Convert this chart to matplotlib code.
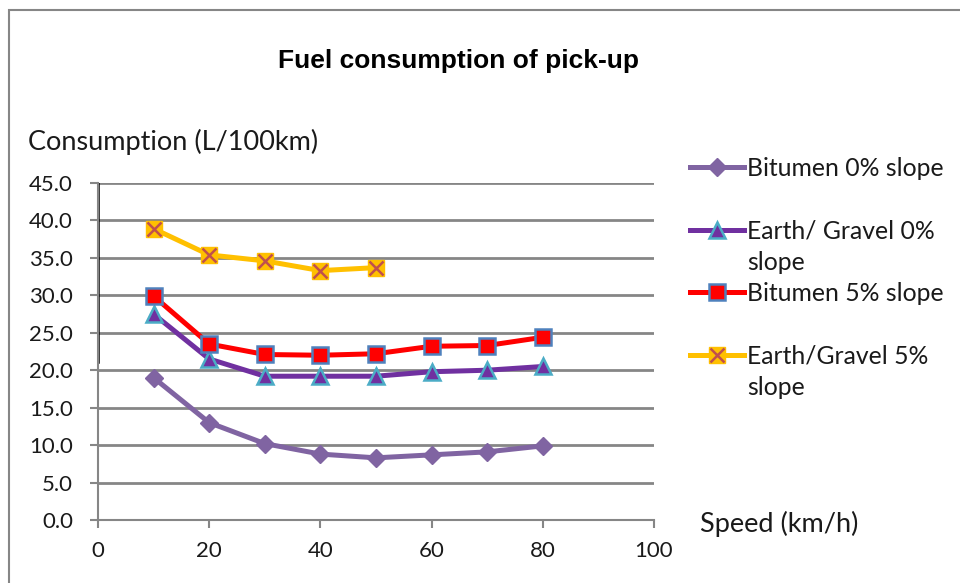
import matplotlib
matplotlib.use("Agg")
import matplotlib.pyplot as plt
from matplotlib.lines import Line2D
from matplotlib.patches import Rectangle

speed = [10, 20, 30, 40, 50, 60, 70, 80]
bitumen_0 = [19.0, 13.0, 10.2, 8.8, 8.3, 8.7, 9.1, 9.9]
earth_0 = [27.5, 21.5, 19.2, 19.2, 19.2, 19.8, 20.0, 20.5]
bitumen_5 = [29.9, 23.5, 22.1, 22.0, 22.2, 23.2, 23.3, 24.4]
speed_earth5 = [10, 20, 30, 40, 50]
earth_5 = [38.9, 35.4, 34.6, 33.3, 33.7]

series_labels = ["Bitumen 0% slope", "Earth/ Gravel 0%", "slope",
                 "Bitumen 5% slope", "Earth/Gravel 5%", "slope"]
yticks = [0, 5, 10, 15, 20, 25, 30, 35, 40, 45]
xticks = [0, 20, 40, 60, 80, 100]

FONT = ["Lato", "DejaVu Sans"]
plt.rcParams["font.family"] = FONT

fig = plt.figure(figsize=(9.6, 5.83), dpi=100)
W, H = 960, 583
ax = fig.add_axes([98 / W, 1 - 520 / H, (654 - 98) / W, (520 - 183) / H])

grid_c = "#868686"
lw = 3.6

l1, = ax.plot(speed, bitumen_0, color="#8064A2", lw=lw, marker="D", ms=9,
              mfc="#8064A2", mec="#8064A2", zorder=3)
l2, = ax.plot(speed, earth_0, color="#7030A0", lw=lw, marker="^", ms=11,
              mfc="#7030A0", mec="#4BACC6", mew=1.8, zorder=4)
l3, = ax.plot(speed, bitumen_5, color="#FF0000", lw=lw, marker="s", ms=12,
              mfc="#FF0000", mec="#4F81BD", mew=1.8, zorder=5)
l4, = ax.plot(speed_earth5, earth_5, color="#FFC000", lw=lw, marker="s", ms=12,
              mfc="#FFC000", mec="#FFC000", zorder=6)
l4x, = ax.plot(speed_earth5, earth_5, ls="none", marker="x", ms=10,
               mec="#C0504D", mew=1.8, zorder=7)

ax.set_xlim(0, 100)
ax.set_ylim(0, 45)
ax.set_xticks(xticks)
ax.set_yticks(yticks)
ax.set_yticklabels([f"{v:.1f}" for v in yticks])
ax.yaxis.grid(True, color=grid_c, lw=2)
ax.set_axisbelow(True)
for s in ["top", "right"]:
    ax.spines[s].set_visible(False)
for s in ["left", "bottom"]:
    ax.spines[s].set_color(grid_c)
    ax.spines[s].set_linewidth(1.5)
ax.tick_params(axis="both", colors=grid_c, width=1.5, length=6,
               labelsize=16, labelcolor="#1a1a1a")
ax.tick_params(axis="x", pad=9)
ax.tick_params(axis="y", pad=12)

# stray black segments drawn on the axes
ax.axvline(0, ymin=0.47, ymax=1.0, color="black", lw=1.8, zorder=2)
ax.axhline(0, xmin=0, xmax=0.534, color="black", lw=1.8, zorder=2)

fig.text(458 / W, 1 - 61 / H, "Fuel consumption of pick-up", ha="center",
         va="center", fontsize=19, fontweight="bold",
         family=["Liberation Sans", "DejaVu Sans"])
fig.text(28 / W, 1 - 142 / H, "Consumption (L/100km)", ha="left", va="center",
         fontsize=19.5, color="#1a1a1a")
fig.text(700 / W, 1 - 524 / H, "Speed (km/h)", ha="left", va="center",
         fontsize=19.5, color="#1a1a1a")

blank = Line2D([], [], ls="none")
handles = [l1, blank, l2, blank, l3, blank, (l4, l4x), blank]
labels = [series_labels[0], "", series_labels[1], series_labels[2],
          series_labels[3], "", series_labels[4], series_labels[5]]
leg = fig.legend(handles, labels, loc="upper left",
                 bbox_to_anchor=(690 / W, 1 - 157 / H), frameon=False,
                 fontsize=17.8, handlelength=2.2, handletextpad=0.12,
                 labelspacing=0.335, borderaxespad=0, borderpad=0)
for t in leg.get_texts():
    t.set_color("#1a1a1a")

fig.add_artist(Rectangle((9 / W, -0.1), 2, 1 - 10 / H + 0.1,
                         transform=fig.transFigure, fill=False,
                         edgecolor=grid_c, lw=1.5))

fig.savefig("out.png", dpi=100)
